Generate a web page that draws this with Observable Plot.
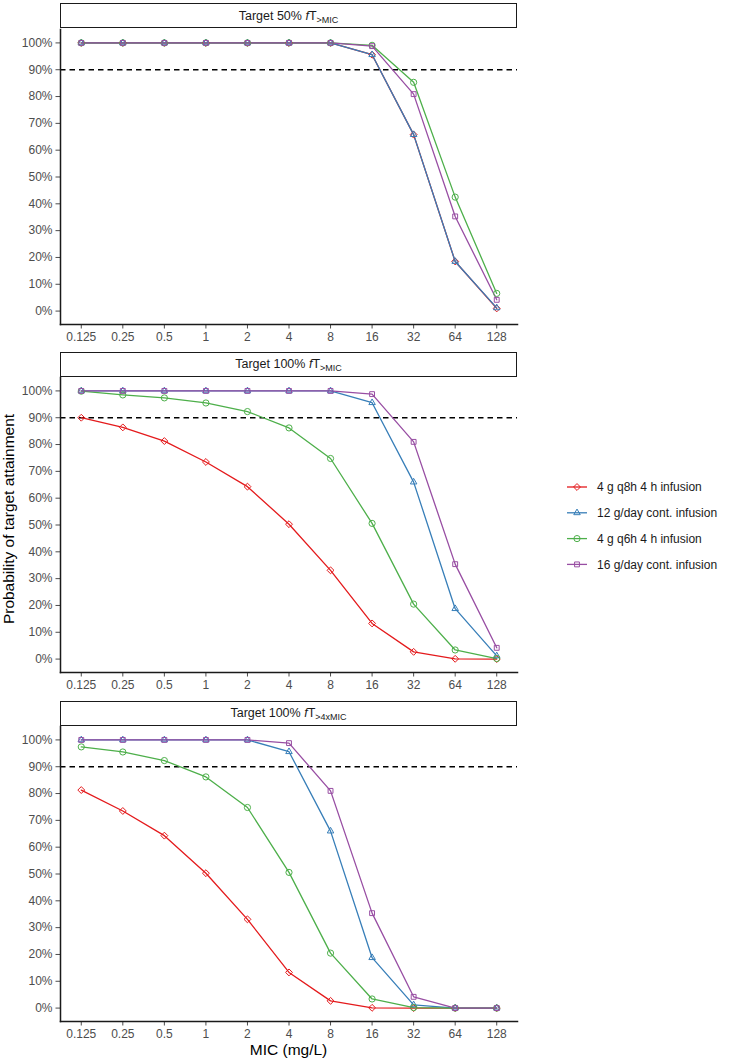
<!DOCTYPE html>
<html>
<head>
<meta charset="utf-8">
<script src="https://cdn.jsdelivr.net/npm/d3@7"></script>
<script src="https://cdn.jsdelivr.net/npm/@observablehq/plot@0.6"></script>
<style>
  body { margin: 0; background: #fff; font-family: "Liberation Sans", Arial, sans-serif; }
  #fig { position: relative; width: 730px; height: 1062px; overflow: hidden; background: #fff; }
  .strip { position: absolute; box-sizing: border-box; border: 1.3px solid #1a1a1a; background: #fff;
           display: flex; align-items: center; justify-content: center; font-size: 12.5px; color: #1a1a1a; }
  .strip .sub { font-size: 9px; position: relative; top: 3px; }
  .panel { position: absolute; left: 0; }
  .ytitle { position: absolute; left: 9px; top: 519px; transform: translate(-50%, -50%) rotate(-90deg);
            white-space: nowrap; font-size: 15.5px; color: #000; }
  .xtitle { position: absolute; left: 288.5px; top: 1050px; transform: translate(-50%, -50%);
            white-space: nowrap; font-size: 15.5px; color: #000; }
  .legend { position: absolute; left: 560px; top: 474px; }
</style>
</head>
<body>
<div id="fig"></div>
<script>
// ---- data ----
const mic = [0.125, 0.25, 0.5, 1, 2, 4, 8, 16, 32, 64, 128];
const regimens = ["4 g q8h 4 h infusion", "12 g/day cont. infusion", "4 g q6h 4 h infusion", "16 g/day cont. infusion"];
const colors = ["#E41A1C", "#377EB8", "#4DAF4A", "#984EA3"];
const shapes = ["diamond2", "triangle2", "circle", "square2"];
const yTicks = [0, 10, 20, 30, 40, 50, 60, 70, 80, 90, 100];
const targetLine = 90;

const panelTitles = [
  ["Target 50% ", "T", ">MIC"],
  ["Target 100% ", "T", ">MIC"],
  ["Target 100% ", "T", ">4xMIC"]
];

// Target 50% fT>MIC
const t50_q8h   = [100, 100, 100, 100, 100, 100, 100, 95.6, 65.8, 18.5, 1.0];
const t50_c12   = [100, 100, 100, 100, 100, 100, 100, 95.6, 65.8, 18.5, 1.2];
const t50_q6h   = [100, 100, 100, 100, 100, 100, 100, 99.1, 85.3, 42.5, 6.6];
const t50_c16   = [100, 100, 100, 100, 100, 100, 100, 98.8, 80.9, 35.3, 4.2];

// Target 100% fT>MIC
const t100_q8h  = [90.0, 86.4, 81.3, 73.5, 64.3, 50.3, 33.1, 13.3, 2.7, 0.1, 0];
const t100_c12  = [100, 100, 100, 100, 100, 100, 100, 95.6, 66.0, 18.8, 1.2];
const t100_q6h  = [99.9, 98.5, 97.4, 95.5, 92.3, 86.2, 74.8, 50.6, 20.5, 3.4, 0.2];
const t100_c16  = [100, 100, 100, 100, 100, 100, 100, 98.8, 81.0, 35.4, 4.2];

// Target 100% fT>4xMIC
const t4x_q8h   = [81.3, 73.5, 64.3, 50.3, 33.1, 13.3, 2.7, 0.1, 0, 0, 0];
const t4x_c12   = [100, 100, 100, 100, 100, 95.6, 66.0, 18.8, 1.2, 0, 0];
const t4x_q6h   = [97.4, 95.5, 92.3, 86.2, 74.8, 50.6, 20.5, 3.4, 0.2, 0, 0];
const t4x_c16   = [100, 100, 100, 100, 100, 98.8, 81.0, 35.4, 4.2, 0, 0];

const panelSeries = [
  [t50_q8h, t50_c12, t50_q6h, t50_c16],
  [t100_q8h, t100_c12, t100_q6h, t100_c16],
  [t4x_q8h, t4x_c12, t4x_q6h, t4x_c16]
];

// ---- layout ----
const fig = document.getElementById("fig");
const plotLeft = 60, plotRight = 517;
const stripTops = [2.7, 351.5, 700.5];
const plotTops = [28.5, 377, 726];
const plotH = 295;

function rowsFor(series) {
  const rows = [];
  series.forEach((vals, i) => vals.forEach((v, j) => rows.push({mic: mic[j], p: v, reg: regimens[i]})));
  return rows;
}

panelSeries.forEach((series, k) => {
  const rows = rowsFor(series);
  const svg = Plot.plot({
    width: 520,
    height: plotH + 30,
    marginLeft: plotLeft,
    marginRight: 520 - plotRight,
    marginTop: 0,
    marginBottom: 30,
    style: {fontSize: "12px", color: "#4d4d4d", fontFamily: "Liberation Sans, Arial, sans-serif", overflow: "visible", background: "transparent"},
    x: {type: "log", base: 2, domain: [2 ** -3.5, 2 ** 7.5], ticks: mic, tickFormat: d => String(d), tickSize: 4.5, tickPadding: 3, label: null},
    y: {domain: [-5, 105], ticks: yTicks, tickFormat: d => d + "%", tickSize: 4.5, tickPadding: 3.5, label: null},
    color: {domain: regimens, range: colors},
    symbol: {domain: regimens, range: shapes},
    marks: [
      Plot.ruleY([targetLine], {stroke: "#000", strokeWidth: 1.3, strokeDasharray: "5.5,4"}),
      Plot.line(rows, {x: "mic", y: "p", z: "reg", stroke: "reg", strokeWidth: 1.3}),
      Plot.dot(rows, {x: "mic", y: "p", stroke: "reg", symbol: "reg", fill: "none", r: 3.1, strokeWidth: 1}),
      Plot.frame({anchor: "left", stroke: "#1a1a1a", strokeWidth: 1.5}),
      Plot.frame({anchor: "bottom", stroke: "#1a1a1a", strokeWidth: 1.5})
    ]
  });
  svg.classList.add("panel");
  svg.style.top = plotTops[k] + "px";
  fig.appendChild(svg);

  const strip = document.createElement("div");
  strip.className = "strip";
  strip.style.left = plotLeft + "px";
  strip.style.width = (plotRight - plotLeft) + "px";
  strip.style.top = stripTops[k] + "px";
  strip.style.height = (plotTops[k] - stripTops[k]) + "px";
  const t = panelTitles[k];
  strip.innerHTML = `<span>${t[0]}<i>f</i>${t[1]}<span class="sub">${t[2].replace(">", "&gt;")}</span></span>`;
  fig.appendChild(strip);
});

// axis titles
const yt = document.createElement("div");
yt.className = "ytitle";
yt.textContent = "Probability of target attainment";
fig.appendChild(yt);
const xt = document.createElement("div");
xt.className = "xtitle";
xt.textContent = "MIC (mg/L)";
fig.appendChild(xt);

// legend
const symMap = {diamond2: d3.symbolDiamond2, triangle2: d3.symbolTriangle2, circle: d3.symbolCircle, square2: d3.symbolSquare2};
const lg = d3.create("svg").attr("width", 170).attr("height", 110).attr("class", "legend")
  .style("font-family", "Liberation Sans, Arial, sans-serif").style("font-size", "12px");
regimens.forEach((r, i) => {
  const g = lg.append("g").attr("transform", `translate(0,${13 + i * 25.8})`);
  g.append("line").attr("x1", 7).attr("x2", 27).attr("stroke", colors[i]).attr("stroke-width", 1.3);
  g.append("path").attr("d", d3.symbol(symMap[shapes[i]], Math.PI * 3.1 * 3.1)()).attr("transform", "translate(17,0)")
    .attr("fill", "none").attr("stroke", colors[i]).attr("stroke-width", 1);
  g.append("text").attr("x", 37).attr("dy", "0.35em").attr("fill", "#1a1a1a").text(r);
});
fig.appendChild(lg.node());
</script>
</body>
</html>
